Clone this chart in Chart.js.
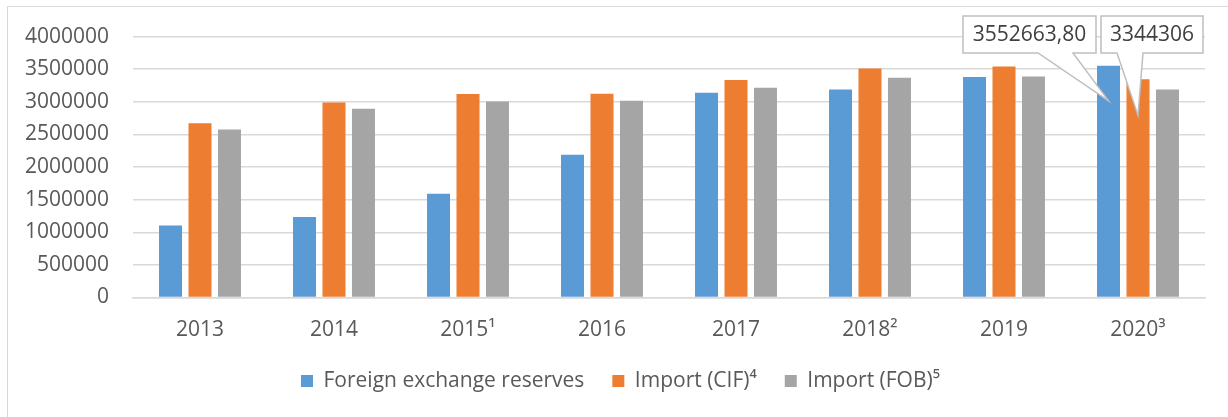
<!DOCTYPE html>
<html>
<head>
<meta charset="utf-8">
<script src="https://cdn.jsdelivr.net/npm/chart.js@4/dist/chart.umd.min.js"></script>
<style>
  html, body { margin: 0; padding: 0; background: #fff; overflow: hidden; }
  #frame { position: absolute; left: 7px; top: 6px; width: 1300px; height: 500px; border: 1px solid #d9d9d9; }
  #wrap { position: absolute; left: 0; top: 0; width: 1228px; height: 417px; }
</style>
</head>
<body>
<div id="frame"></div>
<div id="wrap"><canvas id="c" width="1228" height="417"></canvas></div>
<script>
const years = ['2013', '2014', '2015\u00b9', '2016', '2017', '2018\u00b2', '2019', '2020\u00b3'];
const reserves = [1105000, 1235000, 1590000, 2190000, 3140000, 3190000, 3380000, 3552663.80];
const importCIF = [2670000, 2990000, 3120000, 3125000, 3335000, 3510000, 3540000, 3344306];
const importFOB = [2575000, 2895000, 3005000, 3015000, 3215000, 3370000, 3390000, 3190000];
const seriesNames = ['Foreign exchange reserves', 'Import (CIF)\u2074', 'Import (FOB)\u2075'];
const calloutTexts = ['3552663,80', '3344306'];

const FONT = '"Open Sans", sans-serif';

// nudge the legend row to the right, like the original
const legendShift = {
  id: 'legendShift',
  afterLayout(chart) {
    chart.legend.left += 18;
    chart.legend.right += 18;
  }
};

// callout bubbles for the last category
const callouts = {
  id: 'callouts',
  afterDatasetsDraw(chart) {
    const ctx = chart.ctx;
    const b1 = chart.getDatasetMeta(0).data[7];
    const b2 = chart.getDatasetMeta(1).data[7];
    const boxes = [
      { x0: 963, x1: 1096, y0: 16, y1: 53, p0: 1038, p1: 1073, tx: b1.x, ty: b1.y + 35, text: calloutTexts[0] },
      { x0: 1101, x1: 1203, y0: 16, y1: 53, p0: 1117, p1: 1143, tx: b2.x, ty: b2.y + 36, text: calloutTexts[1] }
    ];
    ctx.save();
    boxes.forEach(c => {
      ctx.beginPath();
      ctx.moveTo(c.x0, c.y0);
      ctx.lineTo(c.x1, c.y0);
      ctx.lineTo(c.x1, c.y1);
      ctx.lineTo(c.p1, c.y1);
      ctx.lineTo(c.tx, c.ty);
      ctx.lineTo(c.p0, c.y1);
      ctx.lineTo(c.x0, c.y1);
      ctx.closePath();
      ctx.fillStyle = '#ffffff';
      ctx.fill();
      ctx.strokeStyle = '#bfbfbf';
      ctx.lineWidth = 1.5;
      ctx.stroke();
      ctx.fillStyle = '#404040';
      ctx.font = '21px ' + FONT;
      ctx.textAlign = 'center';
      ctx.textBaseline = 'middle';
      ctx.fillText(c.text, (c.x0 + c.x1) / 2, (c.y0 + c.y1) / 2 + 1);
    });
    ctx.restore();
  }
};

new Chart(document.getElementById('c'), {
  type: 'bar',
  data: {
    labels: years,
    datasets: [
      { label: seriesNames[0], data: reserves, backgroundColor: '#5b9bd5' },
      { label: seriesNames[1], data: importCIF, backgroundColor: '#ed7d31' },
      { label: seriesNames[2], data: importFOB, backgroundColor: '#a5a5a5' }
    ]
  },
  options: {
    responsive: false,
    animation: false,
    events: [],
    layout: { padding: { top: 34, right: 23, bottom: 15.5, left: 0 } },
    datasets: { bar: { categoryPercentage: 0.66, barPercentage: 0.78 } },
    scales: {
      x: {
        grid: { display: false },
        border: { color: '#d9d9d9', width: 1.5 },
        ticks: { color: '#595959', font: { family: FONT, size: 21 }, padding: 12, maxRotation: 0 },
        afterFit(scale) { scale.height = 45; }
      },
      y: {
        min: 0,
        max: 4000000,
        border: { display: false },
        grid: { color: '#d9d9d9', lineWidth: 1.5, drawTicks: false },
        ticks: {
          stepSize: 500000,
          color: '#595959',
          font: { family: FONT, size: 21 },
          padding: 24,
          callback: v => String(v)
        },
        afterFit(scale) { scale.width = 133; }
      }
    },
    plugins: {
      tooltip: { enabled: false },
      legend: {
        position: 'bottom',
        labels: {
          color: '#595959',
          font: { family: FONT, size: 21 },
          boxWidth: 12,
          boxHeight: 12,
          padding: 28
        }
      }
    }
  },
  plugins: [legendShift, callouts]
});
</script>
</body>
</html>
